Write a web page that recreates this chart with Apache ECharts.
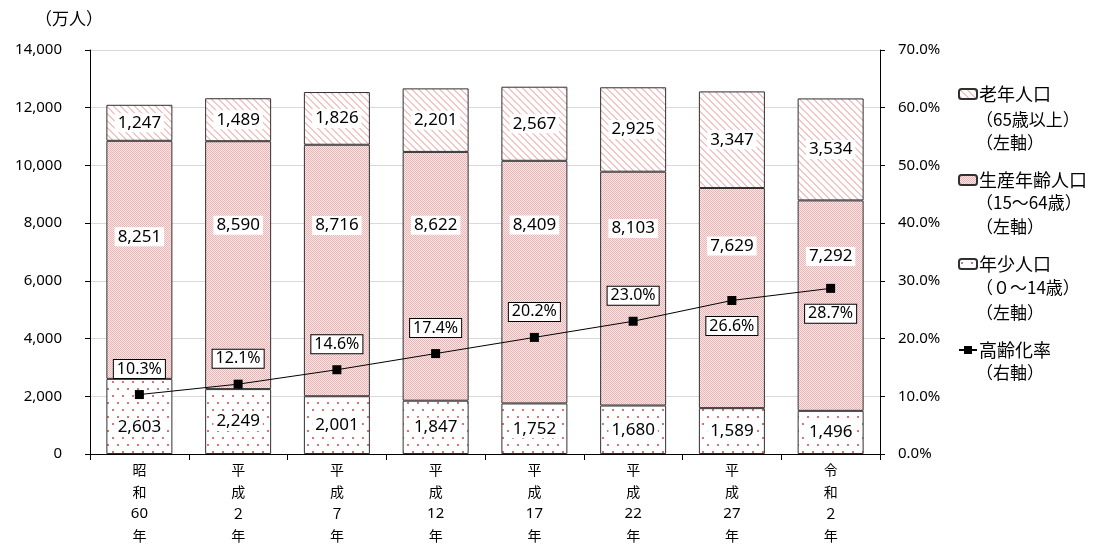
<!DOCTYPE html>
<html><head><meta charset="utf-8">
<script src="https://cdn.jsdelivr.net/npm/echarts@6/dist/echarts.min.js"></script>
<style>html,body{margin:0;padding:0;background:#fff}#c{width:1097px;height:547px}</style>
</head><body><div id="c"></div>
<script>
const categories = ['昭和60年','平成２年','平成７年','平成12年','平成17年','平成22年','平成27年','令和２年'];
const elderly = [1247,1489,1826,2201,2567,2925,3347,3534];
const working = [8251,8590,8716,8622,8409,8103,7629,7292];
const young = [2603,2249,2001,1847,1752,1680,1589,1496];
const agingRate = [10.3,12.1,14.6,17.4,20.2,23.0,26.6,28.7];
const seriesNames = ['老年人口','生産年齢人口','年少人口','高齢化率'];
const legendSubLines = [['（65歳以上）','（左軸）'],['（15～64歳）','（左軸）'],['（０～14歳）','（左軸）'],['（右軸）']];

// label style offsets (px)
const workingLabelOffsets = [-23,-40,-45,-51,-57,-60,-52,-49];
const youngLabelOffsets = [11,0,0,0,0,0,0,0];
const rateLabelPos = ['top','top','top','top','top','top','bottom','bottom'];

function tile(w,h,draw){const c=document.createElement('canvas');c.width=w;c.height=h;const g=c.getContext('2d');draw(g,w,h);return c;}
const checker = tile(2,2,(g)=>{g.fillStyle='#fbe8e8';g.fillRect(0,0,2,2);g.fillStyle='#eab4b4';g.fillRect(0,0,1,1);g.fillRect(1,1,1,1);});
const stripes = tile(7,7,(g,w,h)=>{g.fillStyle='#ffffff';g.fillRect(0,0,w,h);g.fillStyle='#f5c4c4';for(let y=0;y<h;y++)for(let x=0;x<w;x++){if(((x-y)%7+7)%7<2)g.fillRect(x,y,1,1);}});
const dots = tile(10,14,(g,w,h)=>{g.fillStyle='#ffffff';g.fillRect(0,0,w,h);g.fillStyle='#d87474';g.fillRect(2,3,2,2);g.fillRect(7,10,2,2);});

const numFont = "'Noto Sans', sans-serif";
const jpFont = "'Noto Sans CJK JP', sans-serif";
const fmt = v => Number(v).toLocaleString('en-US');

const barLabel = {show:true,position:'inside',color:'#000',fontFamily:numFont,fontSize:17,backgroundColor:'#fff',padding:[1,3],formatter:p=>fmt(p.value)};
const barItem = {borderColor:'#303030',borderWidth:1};

const chart = echarts.init(document.getElementById('c'));
const legendTops = [80,166,250,336];
const legends = seriesNames.map((n,i)=>({
  data:[n], left:953, top:legendTops[i], orient:'vertical', itemWidth:18, itemHeight:10, itemGap:0,
  textStyle:{fontFamily:jpFont,fontSize:18,color:'#000',padding:[0,0,0,-3]}, selectedMode:false
}));
const subTops = [[111,134],[194,218],[279,304],[364]];
const graphics = [{type:'text',left:35,top:10,style:{text:'（万人）',font:"17px 'Noto Sans CJK JP'",fill:'#000'}}];
legendSubLines.forEach((lines,i)=>lines.forEach((t,j)=>graphics.push({type:'text',left:976,top:subTops[i][j],style:{text:t,font:"17px 'Noto Sans CJK JP'",fill:'#000'}})));

chart.setOption({
  animation:false,
  grid:{left:90,right:217,top:50,bottom:92},
  legend:legends,
  graphic:graphics,
  xAxis:{type:'category',data:categories,
    axisLine:{lineStyle:{color:'#000'}},axisTick:{show:true,length:6,lineStyle:{color:'#000'}},
    axisLabel:{margin:5,fontFamily:jpFont,fontSize:14,color:'#000',lineHeight:22,
      rich:{d:{fontFamily:numFont,fontSize:15,lineHeight:22,color:'#000'}},
      formatter:v=>v.match(/\d+|./g).map(s=>/\d/.test(s)?'{d|'+s+'}':s).join('\n')}},
  yAxis:[
    {type:'value',min:0,max:14000,interval:2000,
     axisLine:{show:true,lineStyle:{color:'#000'}},axisTick:{show:true,length:5,lineStyle:{color:'#000'}},
     splitLine:{lineStyle:{color:'#d9d9d9',width:1}},
     axisLabel:{margin:28,fontFamily:numFont,fontSize:15,color:'#000',formatter:v=>fmt(v)}},
    {type:'value',min:0,max:70,interval:10,
     axisLine:{show:true,lineStyle:{color:'#000'}},axisTick:{show:true,length:5,lineStyle:{color:'#000'}},
     splitLine:{show:false},
     axisLabel:{margin:18,fontFamily:numFont,fontSize:15,color:'#000',formatter:v=>v.toFixed(1)+'%'}}
  ],
  series:[
    {name:seriesNames[2],type:'bar',stack:'pop',barWidth:66,data:young.map((v,i)=>({value:v,label:{offset:[0,youngLabelOffsets[i]]}})),
     itemStyle:Object.assign({color:{image:dots,repeat:'repeat'}},barItem),label:barLabel},
    {name:seriesNames[1],type:'bar',stack:'pop',data:working.map((v,i)=>({value:v,label:{offset:[0,workingLabelOffsets[i]]}})),
     itemStyle:Object.assign({color:{image:checker,repeat:'repeat'}},barItem),label:barLabel},
    {name:seriesNames[0],type:'bar',stack:'pop',data:elderly,
     itemStyle:Object.assign({color:{image:stripes,repeat:'repeat'}},barItem),label:barLabel},
    {name:seriesNames[3],type:'line',yAxisIndex:1,symbol:'rect',symbolSize:9,z:5,
     data:agingRate.map((v,i)=>({value:v,label:{position:rateLabelPos[i]}})),
     itemStyle:{color:'#000'},lineStyle:{color:'#000',width:1},
     label:{show:true,distance:12,color:'#000',fontFamily:numFont,fontSize:16,backgroundColor:'#fff',borderColor:'#000',borderWidth:1,padding:[1,3],formatter:p=>p.value.toFixed(1)+'%'}}
  ]
});
</script></body></html>
